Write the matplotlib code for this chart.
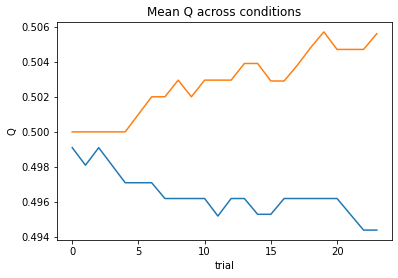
import matplotlib
matplotlib.use("Agg")
import matplotlib.pyplot as plt

trials = list(range(24))
q_low = [0.4991, 0.4981, 0.4991, 0.4981, 0.4971, 0.4971, 0.4971, 0.4962,
         0.4962, 0.4962, 0.4962, 0.4952, 0.4962, 0.4962, 0.4953, 0.4953,
         0.4962, 0.4962, 0.4962, 0.4962, 0.4962, 0.4953, 0.4944, 0.4944]
q_high = [0.5000, 0.5000, 0.5000, 0.5000, 0.5000, 0.5010, 0.5020, 0.5020,
          0.50295, 0.5020, 0.50295, 0.50295, 0.50295, 0.5039, 0.5039, 0.5029,
          0.5029, 0.5038, 0.5048, 0.5057, 0.5047, 0.5047, 0.5047, 0.5056]

fig = plt.figure(figsize=(398 / 72, 278 / 72), dpi=72)
ax = fig.add_axes([0.1432, 0.1367, 0.8418, 0.7842])
ax.plot(trials, q_low)
ax.plot(trials, q_high)
ax.set_title('Mean Q across conditions')
ax.set_xlabel('trial')
ax.set_ylabel('Q')
fig.savefig('out.png', dpi=72)
